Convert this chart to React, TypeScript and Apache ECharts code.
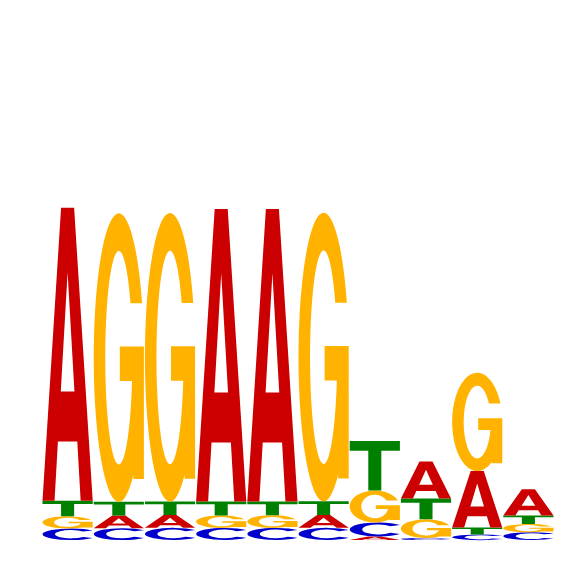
import { useEffect, useRef } from "react";
import * as echarts from "echarts";

// motif positions, one column each
const positions = ["1", "2", "3", "4", "5", "6", "7", "8", "9", "10"];

// letter heights per position, in bits
const heightA = [1.136, 0.049, 0.05, 1.134, 1.134, 0.05, 0.014, 0.143, 0.219, 0.102];
const heightC = [0.045, 0.046, 0.047, 0.047, 0.047, 0.047, 0.054, 0.008, 0.021, 0.03];
const heightG = [0.047, 1.118, 1.118, 0.048, 0.049, 1.118, 0.124, 0.072, 0.381, 0.032];
const heightT = [0.06, 0.053, 0.052, 0.054, 0.053, 0.053, 0.192, 0.081, 0.027, 0.033];

const letters = ["A", "C", "G", "T"];
const heights: Record<string, number[]> = { A: heightA, C: heightC, G: heightG, T: heightT };

const COLORS: Record<string, string> = {
  A: "#CC0000",
  C: "#0000CC",
  G: "#FFB300",
  T: "#008000",
};

// glyph outlines in a 100x100 box, stretched over each letter's rect
const GLYPHS: Record<string, string> = {
  A: "M0,100 L37,0 L63,0 L100,100 L76,100 L69.3,79.8 L30.7,79.8 L24,100 Z M36.4,62.7 L63.6,62.7 L50,22 Z",
  C: "M88.3,17.9 A50,50 0 1 0 88.3,82.1 L71.4,73.1 A28,36 0 1 1 71.4,26.9 Z",
  G: "M96.3,31 A50,50 0 1 0 100,50 L77,50 A27,37 0 1 1 73.2,31 Z M52,46 L52,58 L100,58 L100,46 Z M79,46 L79,92 L100,92 L100,46 Z",
  T: "M0,0 L0,20 L37,20 L37,100 L63,100 L63,20 L100,20 L100,0 Z",
};

// stack letters per column, smallest at the bottom: [column, from, to, letter index]
function buildStacks() {
  const out: number[][] = [];
  positions.forEach((_, i) => {
    const col = letters
      .map((l, k) => ({ k, h: heights[l][i] }))
      .sort((a, b) => a.h - b.h);
    let y = 0;
    col.forEach(({ k, h }) => {
      out.push([i, y, y + h, k]);
      y += h;
    });
  });
  return out;
}

export default function App() {
  const ref = useRef<HTMLDivElement | null>(null);

  useEffect(() => {
    document.body.style.margin = "0";
    if (!ref.current) return;
    const chart = echarts.init(ref.current, undefined, { renderer: "svg" });

    chart.setOption({
      animation: false,
      grid: { left: 42, right: 12, top: 24, bottom: 26 },
      xAxis: { type: "category", data: positions, show: false },
      yAxis: { type: "value", min: 0, max: 2, show: false },
      series: [
        {
          type: "custom",
          data: buildStacks(),
          renderItem: (_params: any, api: any) => {
            const x = api.value(0);
            const y0 = api.value(1);
            const y1 = api.value(2);
            const letter = letters[api.value(3)];
            const bottom = api.coord([x, y0]);
            const top = api.coord([x, y1]);
            const w = api.size([1, 0])[0] - 1;
            const h = bottom[1] - top[1];
            if (h <= 0.2) return null;
            return {
              type: "path",
              shape: {
                pathData: GLYPHS[letter],
                x: bottom[0] - w / 2,
                y: top[1],
                width: w,
                height: h,
                layout: "cover",
              },
              style: { fill: COLORS[letter] },
            };
          },
        },
      ],
    });

    return () => chart.dispose();
  }, []);

  return <div ref={ref} style={{ width: 566, height: 566 }} />;
}
